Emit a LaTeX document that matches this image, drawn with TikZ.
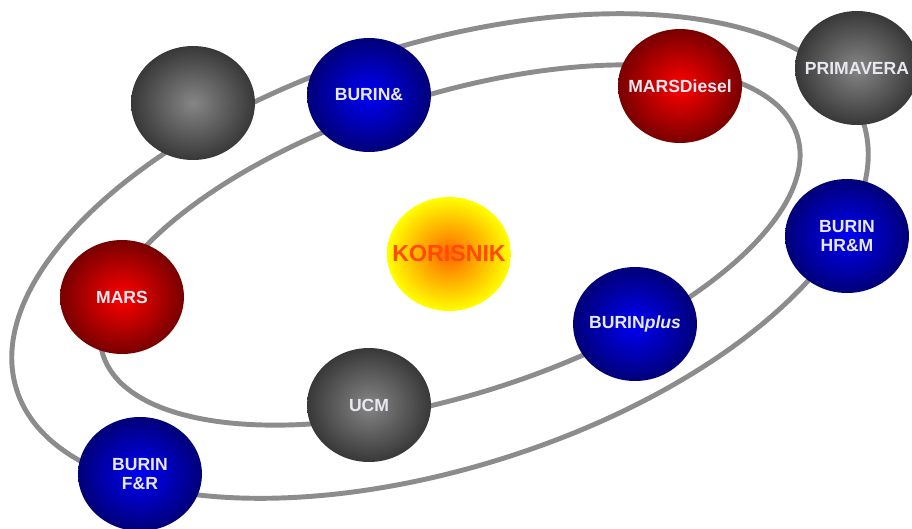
\documentclass[tikz,border=0pt]{standalone}
\usepackage{fontspec}
\setmainfont{Liberation Sans}
\usetikzlibrary{shapes.geometric}

\definecolor{orbitgray}{HTML}{8C8C8C}
\definecolor{labelwhite}{HTML}{E8E8F0}
\definecolor{sunred}{HTML}{FF4A00}

\begin{document}
\begin{tikzpicture}[x=0.02cm, y=-0.02cm]

    \useasboundingbox (0,0) rectangle (912,528);

    \tikzset{orbit/.style={draw=orbitgray, line width=2.8pt},
             planet/.style={ellipse, minimum width=2.48cm, minimum height=2.28cm, inner sep=-20pt,
                            align=center, text=labelwhite,
                            font=\fontsize{10}{11.3}\selectfont\bfseries},
             grayplanet/.style={planet, inner color=gray!95!white, outer color=black!78},
             blueplanet/.style={planet, inner color={rgb,255:red,0;green,0;blue,245}, outer color={rgb,255:red,0;green,0;blue,120}},
             redplanet/.style={planet, inner color={rgb,255:red,255;green,0;blue,0}, outer color={rgb,255:red,120;green,0;blue,0}},
             sunstyle/.style={planet, inner color=orange!80!red, outer color=yellow, text=sunred,
                              font=\fontsize{13.2}{15}\selectfont\bfseries}}

    % orbits
    \draw[orbit, rotate around={17.5:(450,245)}] (450,245) ellipse [x radius=364, y radius=150];
    \draw[orbit, rotate around={17.5:(440,256)}] (440,256) ellipse [x radius=444, y radius=212];

    % sun
    \node[sunstyle] (sun) at (449,254) {KORISNIK};

    % inner orbit
    \node[blueplanet] (p1) at (369, 95) {BURIN\&};
    \node[redplanet]  (p2) at (680, 86) {MARSDiesel};
    \node[blueplanet] (p3) at (635,324) {BURIN\textit{plus}};
    \node[grayplanet] (p4) at (369,405) {UCM};
    \node[redplanet]  (p5) at (122,297) {MARS};

    % outer orbit
    \node[grayplanet] (q1) at (193,103) {};
    \node[grayplanet] (q2) at (857, 68) {PRIMAVERA};
    \node[blueplanet] (q3) at (847,236) {BURIN\\HR\&M};
    \node[blueplanet] (q4) at (140,474) {BURIN\\F\&R};

\end{tikzpicture}
\end{document}
